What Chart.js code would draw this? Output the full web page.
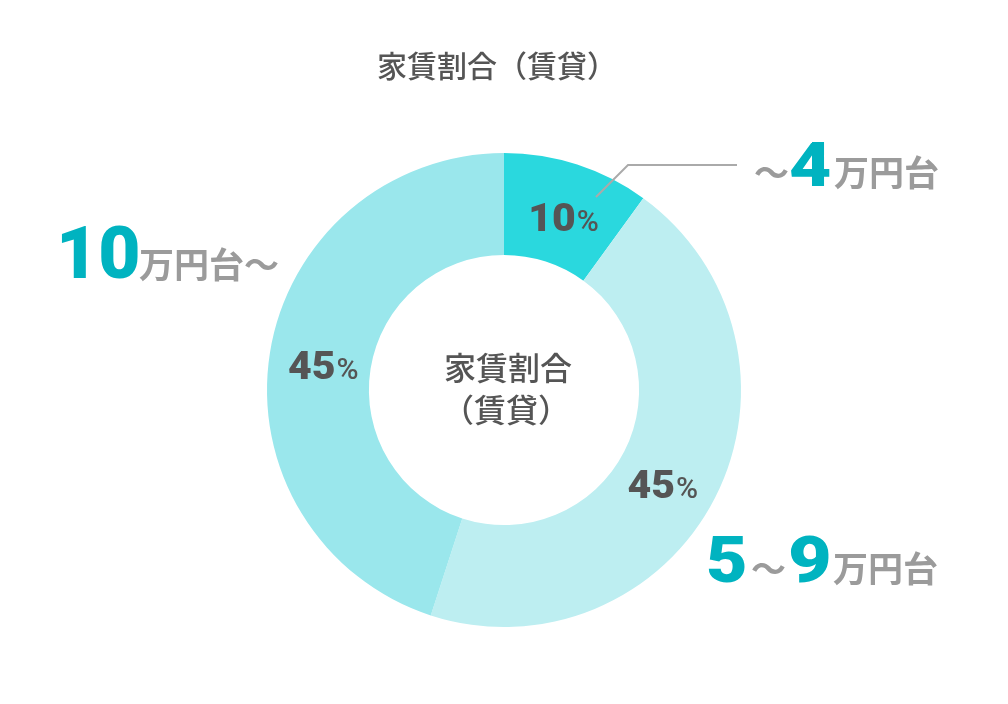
<!DOCTYPE html>
<html><head><meta charset="utf-8">
<script src="https://cdn.jsdelivr.net/npm/chart.js@4.4.0/dist/chart.umd.min.js"></script>
<style>html,body{margin:0;padding:0;background:#fff}canvas{display:block}</style>
</head><body>
<canvas id="c" width="1008" height="704"></canvas>
<script>
const categories = ['～4万円台', '5～9万円台', '10万円台～'];
const values = [10, 45, 45];
const percentLabels = ['10', '45', '45'];
const sliceColors = ['#2ad8de', '#bdeef1', '#9ae7ec'];
const titleText = '家賃割合（賃貸）';
const centerLines = ['家賃割合', '（賃貸）'];

const JP = '"Noto Sans CJK JP", "Noto Sans", sans-serif';
const NUM = 'Roboto, "DejaVu Sans", sans-serif';
const TEAL = '#00b3c0', GRAY = '#9b9b9b', DARK = '#555555';

function seg(ctx, parts, x, y) {
  ctx.textBaseline = 'alphabetic'; ctx.textAlign = 'left';
  for (const p of parts) {
    ctx.font = p.f; ctx.fillStyle = p.c;
    if (p.x !== undefined) x = p.x;
    const s = p.sx || 1;
    ctx.save();
    ctx.translate(x, y + (p.dy || 0));
    ctx.scale(s, 1);
    ctx.fillText(p.t, 0, 0);
    ctx.restore();
    x += ctx.measureText(p.t).width * s + (p.g || 0);
  }
}

const labelPlugin = {
  id: 'labels',
  afterDraw(chart) {
    const ctx = chart.ctx;
    ctx.save();
    // title
    ctx.font = '500 30px ' + JP; ctx.fillStyle = DARK; ctx.textAlign = 'center'; ctx.textBaseline = 'middle';
    ctx.fillText(titleText, 497, 66);
    // center text
    const arcs = chart.getDatasetMeta(0).data;
    const cx = arcs[0].x, cy = arcs[0].y;
    ctx.font = '500 32px ' + JP;
    ctx.fillText(centerLines[0], cx + 4, cy - 22);
    ctx.fillText(centerLines[1], cx + 2, cy + 20);
    // percentages
    const adj = [[2, 5], [-7, 11], [3, 5]];
    const NF = '900 38px ' + NUM, PF = '500 30px ' + NUM;
    arcs.forEach((a, i) => {
      const p = a.tooltipPosition();
      const x = p.x + adj[i][0], y = p.y + adj[i][1];
      ctx.font = NF;
      const w1 = ctx.measureText(percentLabels[i]).width * 1.08;
      ctx.font = PF;
      const w2 = ctx.measureText('%').width;
      const sx = x - (w1 + w2 + 1) / 2;
      seg(ctx, [
        {t: percentLabels[i], f: NF, c: DARK, g: 1, sx: 1.08},
        {t: '%', f: PF, c: DARK}
      ], sx, y + 13);
    });
    // leader line
    ctx.strokeStyle = '#aaaaaa'; ctx.lineWidth = 2;
    ctx.beginPath(); ctx.moveTo(596, 197); ctx.lineTo(628, 165); ctx.lineTo(737, 165); ctx.stroke();
    // outer labels
    seg(ctx, [
      {t: '～', f: 'bold 35px ' + JP, c: GRAY, x: 754},
      {t: '4', f: '900 61px ' + NUM, c: TEAL, x: 789, sx: 1.2},
      {t: '万円台', f: 'bold 35px ' + JP, c: GRAY, x: 834}
    ], 0, 186);
    seg(ctx, [
      {t: '5', f: '900 64px ' + NUM, c: TEAL, x: 706, sx: 1.12},
      {t: '～', f: 'bold 35px ' + JP, c: GRAY, x: 751},
      {t: '9', f: '900 64px ' + NUM, c: TEAL, x: 788, sx: 1.18},
      {t: '万円台', f: 'bold 35px ' + JP, c: GRAY, x: 833}
    ], 0, 582);
    seg(ctx, [
      {t: '10', f: '900 73px ' + NUM, c: TEAL, x: 56},
      {t: '万円台～', f: 'bold 35px ' + JP, c: GRAY, x: 139}
    ], 0, 278);
    ctx.restore();
  }
};

new Chart(document.getElementById('c'), {
  type: 'doughnut',
  data: { labels: categories, datasets: [{ data: values, backgroundColor: sliceColors, borderWidth: 0 }] },
  options: {
    responsive: false, animation: false, devicePixelRatio: 1,
    cutout: '57%',
    layout: { padding: { top: 153, bottom: 77, left: 267, right: 267 } },
    plugins: { legend: { display: false }, tooltip: { enabled: false }, title: { display: false } }
  },
  plugins: [labelPlugin]
});
</script>
</body></html>
